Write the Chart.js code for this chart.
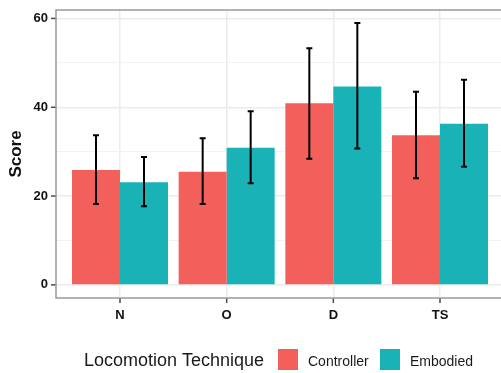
<!DOCTYPE html>
<html><head><meta charset="utf-8">
<script src="https://cdn.jsdelivr.net/npm/chart.js@4/dist/chart.umd.min.js"></script>
<style>
html,body{margin:0;padding:0;background:#fff;overflow:hidden;width:501px;height:373px}
#wrap{position:absolute;left:0;top:0;width:506px;height:373px}
canvas{display:block}
</style></head>
<body>
<div id="wrap"><canvas id="c" width="506" height="373"></canvas></div>
<script>
const categories = ['N', 'O', 'D', 'TS'];
const seriesNames = ['Controller', 'Embodied'];
const seriesColors = ['#F35F5B', '#19B3B7'];
const controllerMean = [25.9, 25.5, 40.9, 33.7];
const controllerLow  = [18.2, 18.2, 28.4, 24.0];
const controllerHigh = [33.7, 33.0, 53.3, 43.5];
const embodiedMean = [23.1, 30.9, 44.7, 36.3];
const embodiedLow  = [17.7, 22.9, 30.7, 26.6];
const embodiedHigh = [28.8, 39.1, 59.0, 46.2];
const yTickLabels = [0, 20, 40, 60];
const yMinorTicks = [10, 30, 50];
const legendTitle = 'Locomotion Technique';
const yTitle = 'Score';

const FONT = "'Liberation Sans', Arial, Helvetica, sans-serif";

function toPoints(arr){ return arr.map((v,i)=>({x:i+1, y:v})); }

const datasets = [
  {label: seriesNames[0], data: toPoints(controllerMean), errLow: controllerLow, errHigh: controllerHigh,
   backgroundColor: seriesColors[0], borderWidth: 0},
  {label: seriesNames[1], data: toPoints(embodiedMean), errLow: embodiedLow, errHigh: embodiedHigh,
   backgroundColor: seriesColors[1], borderWidth: 0}
];

const errorBars = {
  id: 'errorBars',
  afterDatasetsDraw(chart){
    const ctx = chart.ctx, ys = chart.scales.y;
    ctx.save();
    ctx.strokeStyle = '#000';
    ctx.lineWidth = 2;
    chart.data.datasets.forEach((ds, di)=>{
      const meta = chart.getDatasetMeta(di);
      meta.data.forEach((el, i)=>{
        const x = el.x;
        const yt = ys.getPixelForValue(ds.errHigh[i]);
        const yb = ys.getPixelForValue(ds.errLow[i]);
        const hw = 3;
        ctx.beginPath();
        ctx.moveTo(x, yt); ctx.lineTo(x, yb);
        ctx.moveTo(x-hw, yt); ctx.lineTo(x+hw, yt);
        ctx.moveTo(x-hw, yb); ctx.lineTo(x+hw, yb);
        ctx.stroke();
      });
    });
    ctx.restore();
  }
};

const panelAndLegend = {
  id: 'panelAndLegend',
  afterDraw(chart){
    const ctx = chart.ctx, a = chart.chartArea;
    const xs = chart.scales.x, ys = chart.scales.y;
    ctx.save();
    ctx.fillStyle = '#4a4a4a';
    categories.forEach((c, i)=>{
      const px = xs.getPixelForValue(i + 1);
      ctx.fillRect(px - 0.75, a.bottom, 1.5, 5);
    });
    yTickLabels.forEach(v=>{
      const py = ys.getPixelForValue(v);
      ctx.fillRect(a.left - 5, py - 0.75, 5, 1.5);
    });
    ctx.strokeStyle = '#9A9A9A';
    ctx.lineWidth = 1.5;
    ctx.strokeRect(a.left, a.top, a.right - a.left, a.bottom - a.top);
    ctx.fillStyle = '#1a1a1a';
    ctx.textBaseline = 'alphabetic';
    ctx.textAlign = 'left';
    ctx.font = '18px ' + FONT;
    const base = 366;
    ctx.fillText(legendTitle, 84, base);
    const keyX = [278, 380];
    chart.data.datasets.forEach((ds, i)=>{
      ctx.fillStyle = ds.backgroundColor;
      ctx.fillRect(keyX[i], 349, 20, 21);
      ctx.fillStyle = '#1a1a1a';
      ctx.font = '14px ' + FONT;
      ctx.fillText(ds.label, keyX[i] + 30, base);
    });
    ctx.restore();
  }
};

new Chart(document.getElementById('c'), {
  type: 'bar',
  data: {datasets},
  options: {
    responsive: false,
    animation: false,
    devicePixelRatio: 1,
    layout: {padding: {top: 10, right: 2, left: 0, bottom: 0}},
    plugins: {legend: {display: false}, tooltip: {enabled: false}},
    datasets: {bar: {categoryPercentage: 0.9, barPercentage: 1.0, grouped: true}},
    scales: {
      x: {
        type: 'linear', min: 0.4, max: 4.6, offset: false,
        afterBuildTicks(s){ s.ticks = categories.map((c,i)=>({value: i+1})); },
        afterFit(s){ s.height = 75; s.paddingLeft = 0; s.paddingRight = 0; },
        border: {display: false},
        grid: {offset: false, color: '#EBEBEB', lineWidth: 1.5, drawTicks: false},
        ticks: {
          autoSkip: false, maxRotation: 0, padding: 10,
          color: '#111', font: {family: FONT, size: 13, weight: 'bold'},
          callback: (v)=> categories[v-1]
        }
      },
      y: {
        min: -2.95, max: 61.9,
        afterBuildTicks(s){ s.ticks = yTickLabels.concat(yMinorTicks).sort((a,b)=>a-b).map(v=>({value:v})); },
        afterFit(s){ s.width = 56; s.paddingTop = 0; s.paddingBottom = 0; },
        border: {display: false},
        grid: {
          color: (c)=> yTickLabels.includes(c.tick.value) ? '#EBEBEB' : '#F2F2F2',
          lineWidth: (c)=> yTickLabels.includes(c.tick.value) ? 1.5 : 1,
          drawTicks: false
        },
        ticks: {
          autoSkip: false, padding: 8,
          color: '#111', font: {family: FONT, size: 13, weight: 'bold'},
          callback: (v)=> yTickLabels.includes(v) ? String(v) : ''
        },
        title: {display: true, text: yTitle, color: '#111', padding: {top: 6, bottom: 0},
          font: {family: FONT, size: 17, weight: 'bold'}}
      }
    }
  },
  plugins: [errorBars, panelAndLegend]
});
</script>
</body></html>
